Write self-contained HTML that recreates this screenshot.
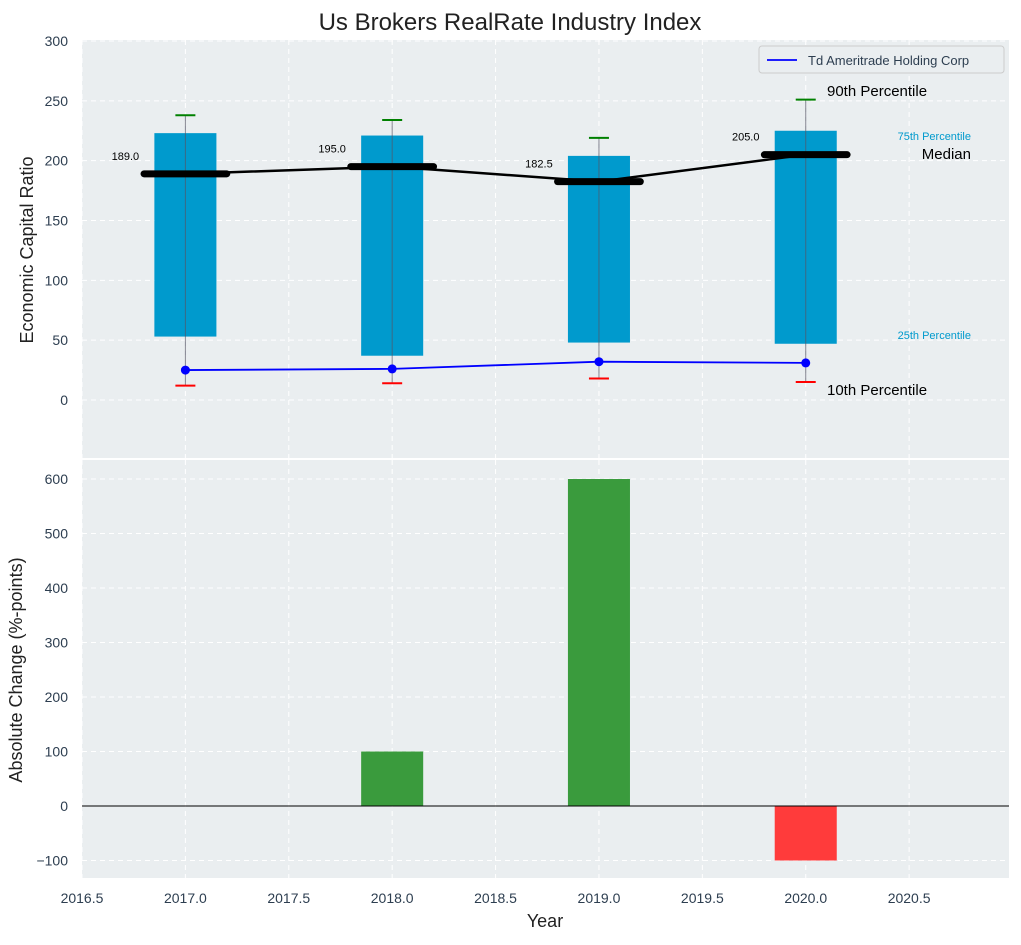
<!DOCTYPE html>
<html><head><meta charset="utf-8"><style>
body{margin:0;background:#fff;font-family:"Liberation Sans","DejaVu Sans",sans-serif}
svg text{font-family:"Liberation Sans","DejaVu Sans",sans-serif}
</style></head><body>
<svg id="c" width="1021" height="940" xmlns="http://www.w3.org/2000/svg"></svg>
<script>
const years=[2017,2018,2019,2020];
const p10=[12,14,18,15];
const p25=[53,37,48,47];
const median=[189,195,182.5,205];
const p75=[223,221,204,225];
const p90=[238,234,219,251];
const company=[25,26,32,31];
const changes=[0,100,600,-100];
const xTicks=[2016.5,2017,2017.5,2018,2018.5,2019,2019.5,2020,2020.5];
const yTopTicks=[0,50,100,150,200,250,300];
const yBotTicks=[-100,0,100,200,300,400,500,600];

const NS="http://www.w3.org/2000/svg";
const svg=document.getElementById('c');
function el(t,a,p){const e=document.createElementNS(NS,t);for(const k in a)e.setAttribute(k,a[k]);(p||svg).appendChild(e);return e;}
const L=82,R=1009;
const X=v=>L+(v-2016.5)*(R-L)/(2020.983-2016.5);
const T0=40,T1=458,B0=460,B1=878;
const YT=v=>400-v*(359/300);
const YB=v=>806-v*(327/600);

// backgrounds
let bg=el('rect',{x:L,y:T0,width:R-L,height:T1-T0,fill:'#eaeef0'});

let bg2=el('rect',{x:L,y:B0,width:R-L,height:B1-B0,fill:'#eaeef0'});


// grids & ticks
xTicks.forEach(t=>{
  el('line',{x1:X(t),x2:X(t),y1:T0,y2:T1,stroke:'#fff','stroke-dasharray':'5,4','stroke-width':1});
  el('line',{x1:X(t),x2:X(t),y1:B0,y2:B1,stroke:'#fff','stroke-dasharray':'5,4','stroke-width':1});
  const tx=el('text',{x:X(t),y:903,'text-anchor':'middle','font-size':14,fill:'#2d3e50'});tx.textContent=t.toFixed(1);
  
});
yTopTicks.forEach(t=>{
  el('line',{x1:L,x2:R,y1:YT(t),y2:YT(t),stroke:'#fff','stroke-dasharray':'5,4'});
  const tx=el('text',{x:68,y:YT(t)+5,'text-anchor':'end','font-size':14,fill:'#2d3e50'});tx.textContent=t;
  
});
yBotTicks.forEach(t=>{
  el('line',{x1:L,x2:R,y1:YB(t),y2:YB(t),stroke:'#fff','stroke-dasharray':'5,4'});
  const tx=el('text',{x:68,y:YB(t)+5,'text-anchor':'end','font-size':14,fill:'#2d3e50'});tx.textContent=t<0?'\u2212'+(-t):t;
  
});

// boxes
years.forEach((y,i)=>{
  const b=el('rect',{x:X(y-0.15),y:YT(p75[i]),width:X(y+0.15)-X(y-0.15),height:YT(p25[i])-YT(p75[i]),fill:'#009acd'});
  
  el('line',{x1:X(y),x2:X(y),y1:YT(p90[i]),y2:YT(p10[i]),stroke:'#556',"stroke-width":1,opacity:0.7});
  el('line',{x1:X(y)-10,x2:X(y)+10,y1:YT(p90[i]),y2:YT(p90[i]),stroke:'green','stroke-width':2});
  el('line',{x1:X(y)-10,x2:X(y)+10,y1:YT(p10[i]),y2:YT(p10[i]),stroke:'red','stroke-width':2});
  const m=el('line',{x1:X(y-0.2),x2:X(y+0.2),y1:YT(median[i]),y2:YT(median[i]),stroke:'#000','stroke-width':7,'stroke-linecap':'round'});
  
  const t=el('text',{x:X(y)-60,y:YT(median[i])-14,'text-anchor':'middle','font-size':11,fill:'#000'});t.textContent=median[i].toFixed(1);
  
});
let ml=el('polyline',{points:years.map((y,i)=>X(y)+','+YT(median[i])).join(' '),fill:'none',stroke:'#000','stroke-width':2.5});

let cl=el('polyline',{points:years.map((y,i)=>X(y)+','+YT(company[i])).join(' '),fill:'none',stroke:'#0000ff','stroke-width':1.8});

years.forEach((y,i)=>{const c=el('circle',{cx:X(y),cy:YT(company[i]),r:4.5,fill:'#0000ff'});
  });

// annotations
const ann=[[827,96,'90th Percentile',15,'#000','start'],[971,140,'75th Percentile',11,'#009acd','end'],[971,159,'Median',15,'#000','end'],[971,339,'25th Percentile',11,'#009acd','end'],[827,395,'10th Percentile',15,'#000','start']];
ann.forEach(a=>{const t=el('text',{x:a[0],y:a[1],'font-size':a[3],fill:a[4],'text-anchor':a[5]});t.textContent=a[2];
  });

// legend
const lg=el('g',{});
el('rect',{x:759,y:46,width:245,height:27,rx:3,fill:'#eaeef0',stroke:'#ccc'},lg);
el('line',{x1:767,x2:797,y1:60,y2:60,stroke:'#0000ff','stroke-width':1.8},lg);
const lt=el('text',{x:808,y:65,'font-size':13,fill:'#2d3e50'},lg);lt.textContent='Td Ameritrade Holding Corp';

// bottom bars
years.forEach((y,i)=>{
  const v=changes[i];if(v===0)return;
  const r=el('rect',{x:X(y-0.15),y:Math.min(YB(v),YB(0)),width:X(y+0.15)-X(y-0.15),height:Math.abs(YB(v)-YB(0)),fill:v>0?'#3a9b3d':'#ff3b3b'});
  
});
el('line',{x1:L,x2:R,y1:YB(0),y2:YB(0),stroke:'#000','stroke-width':1});

// titles
let tt=el('text',{x:510,y:30,'text-anchor':'middle','font-size':24,fill:'#222'});tt.textContent='Us Brokers RealRate Industry Index';

let xt=el('text',{x:545,y:927,'text-anchor':'middle','font-size':18,fill:'#222'});xt.textContent='Year';

let y1=el('text',{x:33,y:250,'text-anchor':'middle','font-size':18,fill:'#222',transform:'rotate(-90 33 250)'});y1.textContent='Economic Capital Ratio';

let y2=el('text',{x:22,y:670,'text-anchor':'middle','font-size':18,fill:'#222',transform:'rotate(-90 22 670)'});y2.textContent='Absolute Change (%-points)';

</script>
</body></html>
